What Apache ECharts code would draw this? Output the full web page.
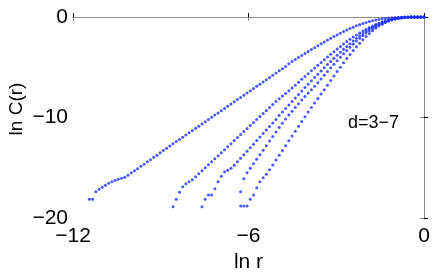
<!DOCTYPE html>
<html><head><meta charset="utf-8">
<script src="https://cdn.jsdelivr.net/npm/echarts@6/dist/echarts.min.js"></script>
<style>html,body{margin:0;padding:0;background:#fff}#c{width:436px;height:273px}</style>
</head><body><div id="c"></div>
<script>
// ln r grid (shared by all curves)
const lnr = [-11.44,-11.33,-11.22,-11.11,-11.00,-10.89,-10.78,-10.67,-10.56,-10.45,-10.34,-10.23,-10.12,-10.01,-9.90,-9.79,-9.68,-9.57,-9.46,-9.35,-9.24,-9.13,-9.02,-8.91,-8.80,-8.69,-8.58,-8.47,-8.36,-8.25,-8.14,-8.03,-7.92,-7.81,-7.70,-7.59,-7.48,-7.37,-7.26,-7.15,-7.04,-6.93,-6.82,-6.71,-6.60,-6.49,-6.38,-6.27,-6.16,-6.05,-5.94,-5.83,-5.72,-5.61,-5.50,-5.39,-5.28,-5.17,-5.06,-4.95,-4.84,-4.73,-4.62,-4.51,-4.40,-4.29,-4.18,-4.07,-3.96,-3.85,-3.74,-3.63,-3.52,-3.41,-3.30,-3.19,-3.08,-2.97,-2.86,-2.75,-2.64,-2.53,-2.42,-2.31,-2.20,-2.09,-1.98,-1.87,-1.76,-1.65,-1.54,-1.43,-1.32,-1.21,-1.10,-0.99,-0.88,-0.77,-0.66,-0.55,-0.44,-0.33,-0.22,-0.11,0.00];

// ln C(r) for d = 3..7 ; each starts at the given index of lnr
const start = [0, 26, 35, 47, 47];
const c3 = [-18.14,-18.14,-17.4,-17.15,-16.95,-16.75,-16.55,-16.4,-16.25,-16.15,-16.05,-15.95,-15.75,-15.5,-15.3,-15.1,-14.85,-14.65,-14.4,-14.2,-13.95,-13.75,-13.5,-13.28,-13.06,-12.84,-12.62,-12.40,-12.18,-11.96,-11.74,-11.52,-11.30,-11.08,-10.86,-10.64,-10.42,-10.20,-9.98,-9.76,-9.54,-9.32,-9.10,-8.88,-8.66,-8.44,-8.22,-8.00,-7.78,-7.56,-7.34,-7.12,-6.90,-6.68,-6.46,-6.24,-6.02,-5.80,-5.58,-5.36,-5.14,-4.93,-4.65,-4.43,-4.22,-4.02,-3.82,-3.62,-3.43,-3.24,-3.05,-2.86,-2.67,-2.48,-2.30,-2.12,-1.95,-1.78,-1.61,-1.45,-1.30,-1.15,-1.01,-0.88,-0.76,-0.65,-0.55,-0.46,-0.38,-0.31,-0.25,-0.19,-0.14,-0.10,-0.07,-0.05,-0.03,-0.02,-0.01,-0.01,0,0,0,0,0];
const c4 = [-18.87,-18.14,-17.45,-16.9,-16.6,-16.4,-16.2,-15.9,-15.6,-15.3,-15.0,-14.7,-14.4,-14.1,-13.8,-13.5,-13.2,-12.9,-12.6,-12.3,-12.0,-11.7,-11.4,-11.1,-10.8,-10.5,-10.2,-9.9,-9.6,-9.3,-9.0,-8.71,-8.42,-8.13,-7.86,-7.6,-7.34,-7.06,-6.78,-6.49,-6.20,-5.92,-5.64,-5.36,-5.08,-4.80,-4.52,-4.25,-3.98,-3.71,-3.45,-3.19,-2.94,-2.69,-2.45,-2.22,-2.00,-1.79,-1.59,-1.40,-1.22,-1.05,-0.89,-0.75,-0.62,-0.50,-0.39,-0.30,-0.22,-0.15,-0.10,-0.06,-0.03,-0.02,-0.01,0,0,0,0];
const c5 = [-18.87,-18.14,-17.7,-17.7,-17.1,-16.4,-15.85,-15.4,-15.25,-15.05,-14.75,-14.4,-14.05,-13.7,-13.35,-13.0,-12.65,-12.3,-11.95,-11.6,-11.25,-10.9,-10.55,-10.2,-9.8,-9.45,-9.1,-8.75,-8.4,-8.05,-7.7,-7.36,-7.02,-6.68,-6.35,-6.02,-5.69,-5.37,-5.05,-4.73,-4.42,-4.11,-3.81,-3.51,-3.22,-2.93,-2.65,-2.38,-2.12,-1.87,-1.63,-1.41,-1.20,-1.01,-0.84,-0.68,-0.54,-0.42,-0.32,-0.23,-0.16,-0.11,-0.07,-0.04,-0.02,-0.01,0,0,0,0];
const c6 = [-17.4,-16.1,-15.5,-15.05,-14.6,-14.15,-13.7,-13.25,-12.8,-12.35,-11.9,-11.45,-11.0,-10.57,-10.15,-9.75,-9.37,-9.0,-8.63,-8.27,-7.92,-7.57,-7.23,-6.90,-6.53,-6.16,-5.79,-5.42,-5.06,-4.70,-4.35,-4.00,-3.66,-3.33,-3.01,-2.70,-2.40,-2.12,-1.85,-1.60,-1.37,-1.16,-0.97,-0.80,-0.64,-0.50,-0.38,-0.28,-0.20,-0.13,-0.08,-0.05,-0.03,-0.01,0,0,0,0];
const c7 = [-18.8,-18.8,-18.8,-18.14,-17.7,-17.0,-16.4,-16.0,-15.65,-15.2,-14.72,-14.24,-13.76,-13.28,-12.8,-12.32,-11.84,-11.36,-10.88,-10.4,-9.93,-9.46,-9.0,-8.55,-8.1,-7.66,-7.23,-6.78,-6.33,-5.88,-5.43,-4.99,-4.56,-4.14,-3.73,-3.34,-2.96,-2.60,-2.26,-1.94,-1.64,-1.37,-1.12,-0.90,-0.71,-0.55,-0.41,-0.30,-0.21,-0.14,-0.09,-0.05,-0.03,-0.01,0,0,0,0];
const curves = [c3, c4, c5, c6, c7];

const xTicks = [-12, -6, 0];
const yTicks = [-20, -10, 0];

const chart = echarts.init(document.getElementById('c'), null, {renderer: 'canvas'});
const font = 'Liberation Sans, Arial, Helvetica, sans-serif';
const series = curves.map((ys, i) => ({
  type: 'scatter',
  symbol: 'circle',
  symbolSize: 3,
  itemStyle: {color: '#1a2eff'},
  silent: true,
  data: ys.map((y, j) => [lnr[start[i] + j], y])
}));

chart.setOption({
  animation: false,
  backgroundColor: '#fff',
  grid: {left: 73, right: 12, top: 17, bottom: 55, containLabel: false, outerBoundsMode: 'none'},
  xAxis: [{
    type: 'value', min: -12, max: 0, interval: 6, position: 'bottom',
    name: 'ln r', nameLocation: 'middle', nameGap: 31,
    nameTextStyle: {fontFamily: font, fontSize: 21, color: '#000'},
    axisLine: {show: true, lineStyle: {color: '#000', width: 1}},
    axisTick: {show: true, inside: true, length: 4, lineStyle: {color: '#000'}},
    axisLabel: {fontFamily: font, fontSize: 21, color: '#000', margin: 8,
      formatter: v => xTicks.includes(v) ? String(v).replace('-', '\u2212') : ''},
    splitLine: {show: false}
  }, {
    type: 'value', min: -12, max: 0, interval: 6, position: 'top',
    axisLine: {show: true, lineStyle: {color: '#888', width: 1}},
    axisTick: {show: true, inside: true, length: 4, lineStyle: {color: '#888'}},
    axisLabel: {show: false}, splitLine: {show: false}
  }],
  yAxis: [{
    type: 'value', min: -20, max: 0, interval: 10, position: 'left',
    axisLine: {show: true, lineStyle: {color: '#000', width: 1}},
    axisTick: {show: true, inside: true, length: 4, lineStyle: {color: '#000'}},
    axisLabel: {fontFamily: font, fontSize: 21, color: '#000', margin: 5,
      padding: [5, 0, 0, 0],
      formatter: v => yTicks.includes(v) ? String(v).replace('-', '\u2212') : ''},
    splitLine: {show: false}
  }, {
    type: 'value', min: -20, max: 0, interval: 10, position: 'right',
    axisLine: {show: true, lineStyle: {color: '#888', width: 1}},
    axisTick: {show: true, inside: true, length: 4, lineStyle: {color: '#888'}},
    axisLabel: {show: false}, splitLine: {show: false}
  }],
  graphic: [{
    type: 'text', x: 17, y: 109, rotation: Math.PI / 2,
    style: {text: 'ln C(r)', fontFamily: font, fontSize: 19, fill: '#000',
      align: 'center', verticalAlign: 'middle'}
  }, {
    type: 'text', left: 348, top: 114,
    style: {text: 'd=3\u22127', fontFamily: font, fontSize: 18, fill: '#000'}
  }],
  series: series
});
</script>
</body></html>
